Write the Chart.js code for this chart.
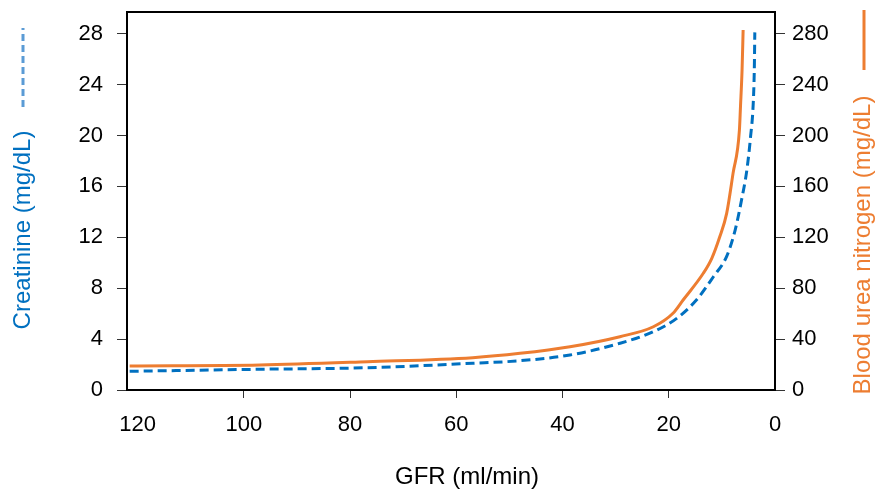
<!DOCTYPE html>
<html>
<head>
<meta charset="utf-8">
<script src="https://cdn.jsdelivr.net/npm/chart.js@4.4.1/dist/chart.umd.min.js"></script>
<style>
  html, body { margin: 0; padding: 0; background: #fff; }
  #chart { display: block; }
</style>
</head>
<body>
<canvas id="chart" width="876" height="493"></canvas>
<script>
// GFR values (ml/min) and the readings along each curve
const gfrBun = [121.5, 97.0, 76.7, 56.9, 48.0, 38.6, 29.2, 22.9, 19.2, 17.3, 13.5, 11.9, 10.4, 9.1, 7.9, 6.7, 6.5, 6.2, 6.0];
const bun = [18.9, 19.6, 22.2, 25.4, 28.8, 34.0, 41.9, 49.7, 60.3, 70.7, 91.7, 103.5, 120.4, 138.8, 170.2, 204.2, 222.5, 251.4, 282.8];

const gfrCreat = [121.5, 97.0, 76.7, 56.9, 48.0, 38.6, 29.2, 22.9, 18.5, 14.8, 11.6, 9.1, 7.5, 6.3, 5.3, 4.6, 4.1, 3.9, 3.8];
const creatinine = [1.47, 1.63, 1.75, 2.10, 2.30, 2.75, 3.67, 4.58, 5.63, 7.07, 8.90, 10.5, 12.57, 14.93, 17.28, 19.9, 22.5, 25.1, 28.1];

const xTitle = 'GFR (ml/min)';
const leftTitle = 'Creatinine (mg/dL)';
const rightTitle = 'Blood urea nitrogen (mg/dL)';

const blue = '#0070C0';
const lightBlue = '#5B9BD5';
const orange = '#ED7D31';
const font = 'Liberation Sans, Arial, sans-serif';

const toPoints = (xs, ys) => xs.map((x, i) => ({ x: x, y: ys[i] }));

// box around the plot, axis titles and the small line keys beside them
const framePlugin = {
    id: 'frame',
    afterDraw(chart) {
        const { ctx, chartArea: a } = chart;
        ctx.save();
        ctx.strokeStyle = '#000';
        ctx.lineWidth = 2;
        ctx.strokeRect(a.left, a.top, a.right - a.left, a.bottom - a.top);

        ctx.font = '24px ' + font;
        ctx.textAlign = 'center';
        ctx.textBaseline = 'middle';
        ctx.fillStyle = '#000';
        ctx.fillText(xTitle, 467, 477);

        // left title + dashed key
        ctx.save();
        ctx.translate(23, 230);
        ctx.rotate(-Math.PI / 2);
        ctx.fillStyle = blue;
        ctx.fillText(leftTitle, 0, 0);
        ctx.restore();
        ctx.strokeStyle = lightBlue;
        ctx.lineWidth = 3;
        ctx.setLineDash([7, 4]);
        ctx.beginPath();
        ctx.moveTo(23, 107);
        ctx.lineTo(23, 28);
        ctx.stroke();

        // right title + solid key
        ctx.save();
        ctx.translate(863, 245);
        ctx.rotate(-Math.PI / 2);
        ctx.fillStyle = orange;
        ctx.fillText(rightTitle, 0, 0);
        ctx.restore();
        ctx.strokeStyle = orange;
        ctx.setLineDash([]);
        ctx.beginPath();
        ctx.moveTo(864, 70);
        ctx.lineTo(864, 10);
        ctx.stroke();
        ctx.restore();
    }
};

const tickFont = { family: font, size: 22 };

function noPad(scale) {
    scale.paddingTop = 0;
    scale.paddingBottom = 0;
    scale.paddingLeft = 0;
    scale.paddingRight = 0;
}

new Chart(document.getElementById('chart'), {
    type: 'line',
    data: {
        datasets: [
            {
                label: 'Blood urea nitrogen',
                data: toPoints(gfrBun, bun),
                yAxisID: 'y1',
                borderColor: orange,
                borderWidth: 3,
                pointRadius: 0,
                cubicInterpolationMode: 'monotone'
            },
            {
                label: 'Creatinine',
                data: toPoints(gfrCreat, creatinine),
                yAxisID: 'y',
                borderColor: blue,
                borderWidth: 3,
                borderDash: [9, 5],
                pointRadius: 0,
                cubicInterpolationMode: 'monotone'
            }
        ]
    },
    options: {
        responsive: false,
        animation: false,
        layout: { padding: { top: 12, left: 0, right: 0, bottom: 0 } },
        plugins: { legend: { display: false }, tooltip: { enabled: false } },
        scales: {
            x: {
                type: 'linear',
                reverse: true,
                min: 0,
                max: 122,
                border: { display: false },
                grid: {
                    drawOnChartArea: false,
                    drawTicks: true,
                    tickLength: 8,
                    // the end labels sit at the box corners without a tick mark
                    color: c => (c.tick && (c.tick.value === 120 || c.tick.value === 0)) ? 'rgba(0,0,0,0)' : '#333'
                },
                ticks: { stepSize: 20, includeBounds: false, color: '#000', font: tickFont, padding: 14, maxRotation: 0 },
                afterFit(scale) { scale.height = 103; noPad(scale); }
            },
            y: {
                position: 'left',
                min: 0,
                max: 29.7,
                border: { display: false },
                grid: { drawOnChartArea: false, drawTicks: true, tickLength: 10, color: '#333' },
                ticks: { stepSize: 4, includeBounds: false, color: '#000', font: tickFont, padding: 14 },
                afterFit(scale) { scale.width = 127; noPad(scale); }
            },
            y1: {
                position: 'right',
                min: 0,
                max: 297,
                border: { display: false },
                grid: { drawOnChartArea: false, drawTicks: true, tickLength: 10, color: '#333' },
                ticks: { stepSize: 40, includeBounds: false, color: '#000', font: tickFont, padding: 7 },
                afterFit(scale) { scale.width = 101; noPad(scale); }
            }
        }
    },
    plugins: [framePlugin]
});
</script>
</body>
</html>
